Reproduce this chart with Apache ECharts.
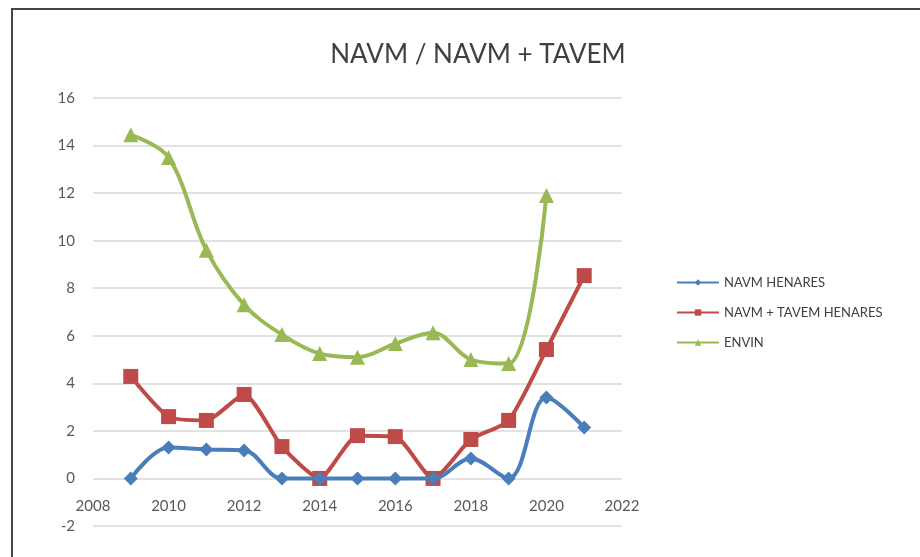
<!DOCTYPE html>
<html><head><meta charset="utf-8">
<script src="https://cdn.jsdelivr.net/npm/echarts@6/dist/echarts.min.js"></script>
<style>html,body{margin:0;padding:0;background:#fff}#c{width:920px;height:557px}</style>
</head><body><div id="c"></div>
<script>
const years = [2009,2010,2011,2012,2013,2014,2015,2016,2017,2018,2019,2020,2021];
const navmHenares = [0,1.3,1.22,1.18,0,0,0,0,0,0.84,0,3.4,2.14];
const navmTavemHenares = [4.29,2.6,2.44,3.53,1.34,0,1.8,1.76,0,1.64,2.44,5.42,8.53];
const envin = [14.45,13.5,9.6,7.3,6.05,5.25,5.1,5.67,6.13,5.0,4.83,11.9];
const seriesNames = ['NAVM HENARES','NAVM + TAVEM HENARES','ENVIN'];
const titleText = 'NAVM / NAVM + TAVEM';

const pair = (vals) => vals.map((v,i)=>[years[i], v]);
const FONT = 'Lato';
const W = 920, H = 557, GT = 98, GB = 31;
const yMin = -2, yMax = 16;
const zeroOffset = -(H - GT - GB) * (0 - yMin) / (yMax - yMin);
const chart = echarts.init(document.getElementById('c'), null, {renderer:'canvas'});
chart.setOption({
  animation:false,
  backgroundColor:'#fff',
  textStyle:{fontFamily:FONT},
  title:{text:titleText,left:473,textAlign:'center',top:37,textStyle:{fontFamily:FONT,fontSize:26,fontWeight:'normal',color:'#404040'}},
  graphic:[{type:'rect',shape:{x:12,y:9,width:930,height:570},style:{fill:'none',stroke:'#444',lineWidth:2},silent:true}],
  legend:{orient:'vertical',left:671,top:271,itemGap:17,itemWidth:42,itemHeight:8,
    textStyle:{fontFamily:FONT,fontSize:13,color:'#404040'},data:seriesNames},
  grid:{left:93,right:298,top:GT,bottom:GB,containLabel:false},
  xAxis:{type:'value',min:2008,max:2022,interval:2,position:'bottom',offset:zeroOffset,
    axisLine:{show:false,onZero:false},
    axisTick:{show:false},splitLine:{show:false},
    axisLabel:{margin:20,fontSize:15,color:'#595959',fontFamily:FONT,formatter:(v)=>String(v)}},
  yAxis:{type:'value',min:yMin,max:yMax,interval:2,
    axisLine:{show:false},axisTick:{show:false},
    splitLine:{lineStyle:{color:'#d9d9d9',width:1.5}},
    axisLabel:{margin:18,fontSize:15,color:'#595959',fontFamily:FONT}},
  series:[
    {name:seriesNames[0],type:'line',data:pair(navmHenares),smooth:0.35,symbol:'diamond',symbolSize:14,
      lineStyle:{color:'#4a7ebb',width:4},itemStyle:{color:'#4a7ebb'},z:4},
    {name:seriesNames[1],type:'line',data:pair(navmTavemHenares),smooth:0.2,symbol:'rect',symbolSize:15,
      lineStyle:{color:'#be4b48',width:4},itemStyle:{color:'#be4b48'},z:3},
    {name:seriesNames[2],type:'line',data:pair(envin),smooth:0.35,symbol:'triangle',symbolSize:15,
      lineStyle:{color:'#98b954',width:4},itemStyle:{color:'#98b954'},z:2}
  ]
});
</script></body></html>
